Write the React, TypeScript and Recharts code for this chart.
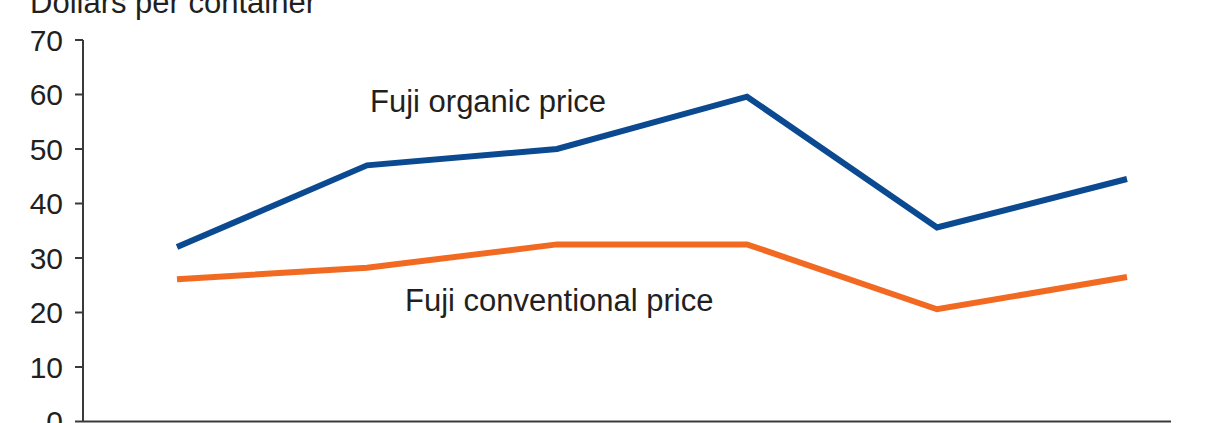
import React from "react";
import { LineChart, Line, XAxis, YAxis } from "recharts";

const categories = ["2004", "2005", "2006", "2007", "2008", "2009"];
const organicPrice = [32.0, 47.0, 50.0, 59.6, 35.6, 44.5];
const conventionalPrice = [26.1, 28.2, 32.5, 32.5, 20.6, 26.5];
const yTicks = [0, 10, 20, 30, 40, 50, 60, 70];

const data = categories.map((c, i) => ({
  cat: c,
  organic: organicPrice[i],
  conventional: conventionalPrice[i],
}));

const FONT = "'Liberation Sans', Arial, Helvetica, sans-serif";
const TEXT = "#231f20";
const AXIS = "#3a3a3a";

const labelStyle: React.CSSProperties = {
  position: "absolute",
  fontFamily: FONT,
  fontSize: 31,
  lineHeight: "31px",
  color: TEXT,
  whiteSpace: "nowrap",
};

export default function App() {
  return (
    <div style={{ position: "absolute", left: 0, top: 0, width: 1210, height: 423, overflow: "hidden", background: "#fff" }}>
      <div style={{ ...labelStyle, left: 30, top: -13 }}>Dollars per container</div>
      <LineChart
        width={1210}
        height={470}
        data={data}
        margin={{ top: 40, right: 39, bottom: 8.5, left: 0 }}
      >
        <XAxis
          dataKey="cat"
          padding={{ left: 94, right: 44 }}
          axisLine={{ stroke: AXIS, strokeWidth: 2 }}
          tickLine={false}
          height={40}
          tick={{ fill: TEXT, fontSize: 28, fontFamily: FONT }}
        />
        <YAxis
          domain={[0, 70]}
          ticks={yTicks}
          width={83}
          axisLine={{ stroke: AXIS, strokeWidth: 2 }}
          tickLine={{ stroke: AXIS, strokeWidth: 2 }}
          tickSize={8}
          tickMargin={12}
          tick={{ fill: TEXT, fontSize: 30, fontFamily: FONT }}
        />
        <Line
          dataKey="organic"
          stroke="#0b4a90"
          strokeWidth={6}
          dot={false}
          isAnimationActive={false}
          strokeLinejoin="miter"
        />
        <Line
          dataKey="conventional"
          stroke="#f26a22"
          strokeWidth={6}
          dot={false}
          isAnimationActive={false}
          strokeLinejoin="miter"
        />
      </LineChart>
      <div style={{ ...labelStyle, left: 370, top: 86.4 }}>Fuji organic price</div>
      <div style={{ ...labelStyle, left: 405, top: 285.4 }}>Fuji conventional price</div>
    </div>
  );
}
